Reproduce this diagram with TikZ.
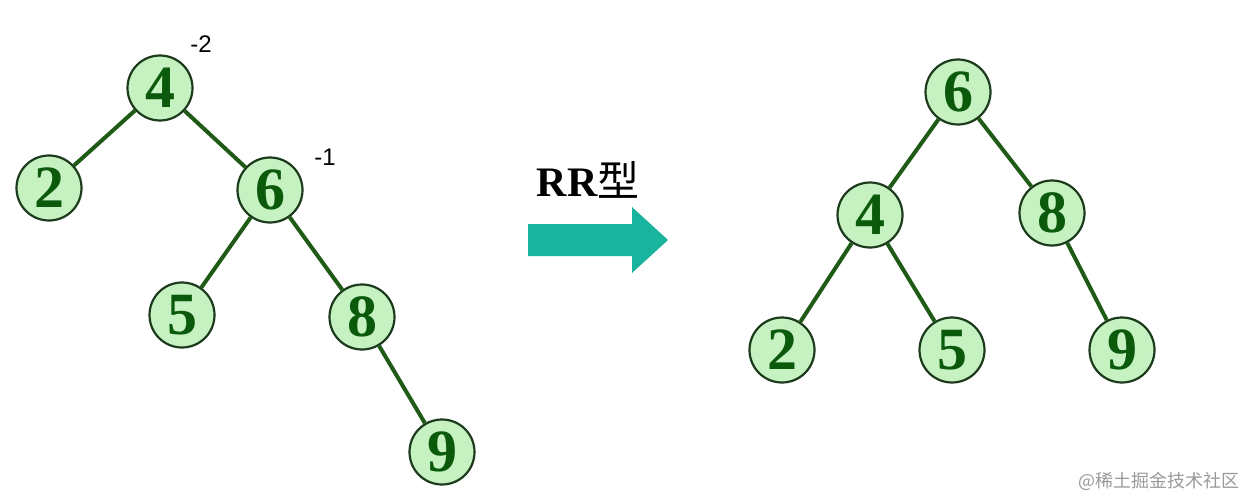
\documentclass[tikz,border=0pt]{standalone}
\usepackage{fontspec}
\setmainfont{Liberation Serif}
\newfontfamily\cjk{Noto Sans CJK SC}
\newfontfamily\lsans{Liberation Sans}
\definecolor{nodefill}{HTML}{C6F2C2}
\definecolor{nodedraw}{HTML}{1C3A1C}
\definecolor{digit}{HTML}{0B5A0B}
\definecolor{edgec}{HTML}{1F5A16}
\definecolor{teal}{HTML}{1AB39E}
\begin{document}
\begin{tikzpicture}[x=1pt,y=-1pt,
  tn/.style={circle,draw=nodedraw,line width=2.2pt,fill=nodefill,minimum size=65pt,inner sep=0pt,
    font=\fontsize{60}{60}\selectfont\bfseries,text=digit},
  ed/.style={draw=edgec,line width=4pt},
  bal/.style={font=\lsans\fontsize{24}{24}\selectfont,text=black,inner sep=0pt}]
\path[use as bounding box] (0,0) rectangle (1246,497);
% left tree
\node[tn] (l4) at (160,88) {4};
\node[tn] (l2) at (49,188) {2};
\node[tn] (l6) at (270,190) {6};
\node[tn] (l5) at (182,315) {5};
\node[tn] (l8) at (362,317) {8};
\node[tn] (l9) at (442,452) {9};
\path[ed] (l4) -- (l2);
\path[ed] (l4) -- (l6);
\path[ed] (l6) -- (l5);
\path[ed] (l6) -- (l8);
\path[ed] (l8) -- (l9);
\node[bal] (b1) at (201,44) {-2};
\node[bal] (b2) at (325,157) {-1};
% right tree
\node[tn] (r6) at (958,92) {6};
\node[tn] (r4) at (870,215) {4};
\node[tn] (r8) at (1052,213) {8};
\node[tn] (r2) at (782,350) {2};
\node[tn] (r5) at (952,350) {5};
\node[tn] (r9) at (1122,350) {9};
\path[ed] (r6) -- (r4);
\path[ed] (r6) -- (r8);
\path[ed] (r4) -- (r2);
\path[ed] (r4) -- (r5);
\path[ed] (r8) -- (r9);
% arrow
\node[font=\fontsize{42}{42}\selectfont\bfseries,inner sep=0pt] (lbl) at (588,180) {RR{\cjk\mdseries 型}};
\fill[teal] (528,224) -- (632,224) -- (632,207) -- (668,240) -- (632,273) -- (632,256) -- (528,256) -- cycle;
% watermark
\node[font=\cjk\fontsize{18}{18}\selectfont,text=black!40,anchor=east,inner sep=0pt] (wm) at (1240,481) {@稀土掘金技术社区};
\end{tikzpicture}
\end{document}
